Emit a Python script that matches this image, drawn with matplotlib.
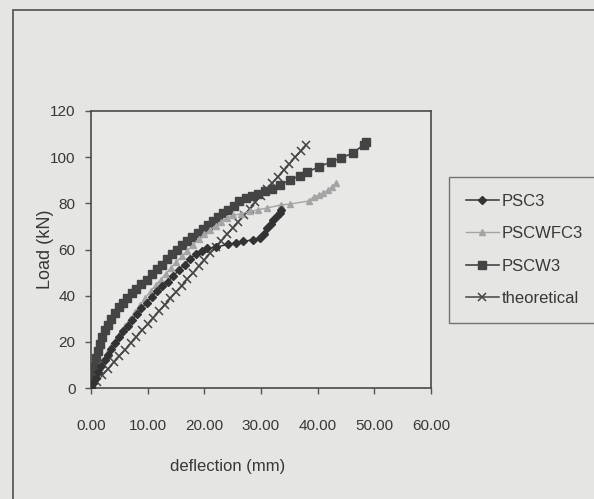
import matplotlib
matplotlib.use("Agg")
import matplotlib.pyplot as plt
from matplotlib import font_manager
from matplotlib.patches import Rectangle
from matplotlib.ticker import FormatStrFormatter

# ---------------- data ----------------
psc3_x = [0, 0.4, 0.8, 1.3, 1.8, 2.4, 3.0, 3.6, 4.3, 5.0, 5.7, 6.5, 7.3, 8.1, 8.9,
          9.8, 10.7, 11.6, 12.5, 13.5, 14.5, 15.5, 16.5, 17.5, 18.5, 19.5, 20.5,
          22.0, 24.1, 25.5, 26.9, 28.5, 29.9, 30.6, 31.1, 31.7, 32.2, 32.8, 33.3, 33.6]
psc3_y = [0, 2, 4.5, 7, 9.5, 12, 14.5, 17, 19.5, 22, 24.5, 27, 29.5, 32, 34.5,
          37, 39.5, 42, 44, 46, 48.5, 51, 53.5, 56, 58, 59.5, 60.5,
          61, 62.2, 62.8, 63.5, 64.2, 65, 66.5, 69.3, 71, 72.8, 74.5, 76, 77.2]

pscwfc3_x = [0, 0.5, 1.0, 1.6, 2.2, 2.9, 3.6, 4.4, 5.2, 6.0, 6.9, 7.8, 8.7, 9.6,
             10.5, 11.4, 12.3, 13.2, 14.1, 15.0, 16.0, 17.0, 18.0, 19.0, 20.0,
             21.0, 22.0, 23.0, 24.0, 25.0, 26.5, 28.0, 29.5, 31.1, 33.5, 35.2,
             38.4, 39.3, 40.2, 40.9, 41.9, 42.6, 43.2]
pscwfc3_y = [0, 3, 6, 9, 12, 15, 18, 21, 24, 27, 30, 33, 36, 39,
             42, 44.5, 47, 49.5, 52, 54.5, 57, 59.5, 62, 64.5, 66.5,
             68.5, 70.3, 72, 73.5, 74.8, 75.5, 76.5, 77.2, 78, 79.3, 79.7,
             81, 82.8, 83.5, 84.5, 85.8, 87.2, 88.8]

pscw3_x = [0, 0.3, 0.6, 0.9, 1.2, 1.6, 2.0, 2.5, 3.0, 3.6, 4.2, 4.9, 5.6, 6.4,
           7.2, 8.0, 8.9, 9.8, 10.7, 11.6, 12.5, 13.4, 14.3, 15.2, 16.1, 17.0,
           17.9, 18.8, 19.7, 20.6, 21.5, 22.4, 23.3, 24.2, 25.2, 26.2, 27.3,
           28.4, 29.5, 30.7, 31.9, 33.3, 35.2, 36.8, 38.2, 40.2, 42.3, 44.1,
           46.2, 48.1, 48.5]
pscw3_y = [0, 5, 9, 13, 16, 19, 22, 25, 27.5, 30, 32.5, 35, 37, 39,
           41, 43, 45, 47, 49.5, 51.5, 53.5, 56, 58, 60, 62, 63.8,
           65.5, 67.2, 69, 70.8, 72.5, 74.2, 75.8, 77.3, 79, 81, 82.5,
           83.3, 84.2, 85.2, 86.3, 88, 90.1, 92, 93.6, 95.8, 97.9, 99.6,
           101.8, 105.3, 106.5]

theo_x = [0, 1, 2, 3, 4, 5, 6, 7, 8, 9, 10, 11, 12, 13, 14, 15, 16, 17, 18, 19,
          20, 21, 22, 23, 24, 25, 26, 27, 28, 29, 30, 31, 32, 33, 34, 35, 36, 37, 38]
theo_y = [0, 2.8, 5.5, 8.3, 11.1, 13.9, 16.6, 19.4, 22.2, 25.0, 27.7, 30.5, 33.3,
          36.1, 38.8, 41.6, 44.4, 47.2, 49.9, 52.7, 55.5, 58.3, 61.0, 63.8, 66.6,
          69.4, 72.1, 74.9, 77.7, 80.5, 83.2, 86.0, 88.8, 91.6, 94.3, 97.1, 99.9,
          102.7, 105.4]

series_labels = ["PSC3", "PSCWFC3", "PSCW3", "theoretical"]
x_label = "deflection (mm)"
y_label = "Load (kN)"

# ---------------- style ----------------
names = {f.name for f in font_manager.fontManager.ttflist}
fam = "Liberation Sans Narrow" if "Liberation Sans Narrow" in names else "Liberation Sans"
plt.rcParams["font.family"] = [fam, "DejaVu Sans"]

W, H = 594, 499
fig = plt.figure(figsize=(W / 100, H / 100), dpi=100)
bg = "#e5e5e3"
fig.patch.set_facecolor(bg)
txt = "#383838"

# outer chart border
fig.add_artist(Rectangle((13 / W, -0.2), 1.2, 1.2 - 10 / H,
                         transform=fig.transFigure, fill=False,
                         edgecolor="#5a5a5a", linewidth=1.3))

ax = fig.add_axes([91 / W, 1 - 388 / H, (431 - 91) / W, (388 - 111) / H])
ax.set_facecolor("#e8e8e6")

ax.plot(pscw3_x, pscw3_y, color="#444444", marker="s", markersize=5.2,
        linewidth=1.2, label=series_labels[2], zorder=3)
ax.plot(pscwfc3_x, pscwfc3_y, color="#a4a4a4", marker="^", markersize=4.5,
        linewidth=1.0, label=series_labels[1], zorder=4)
ax.plot(theo_x, theo_y, color="#444444", marker="x", markersize=6,
        markeredgewidth=1.1, linewidth=1.1, label=series_labels[3], zorder=2)
ax.plot(psc3_x, psc3_y, color="#333333", marker="D", markersize=4,
        linewidth=1.1, label=series_labels[0], zorder=5)

ax.set_xlim(0, 60)
ax.set_ylim(0, 120)
ax.set_xticks([0, 10, 20, 30, 40, 50, 60])
ax.set_yticks([0, 20, 40, 60, 80, 100, 120])
ax.xaxis.set_major_formatter(FormatStrFormatter("%.2f"))
ax.tick_params(axis="both", direction="out", length=4, width=1, color="#555555",
               labelcolor=txt, labelsize=11)
ax.tick_params(axis="x", pad=18)
ax.tick_params(axis="y", pad=7)
for s in ax.spines.values():
    s.set_color("#4a4a4a")
    s.set_linewidth(1.2)

ax.set_xlabel(x_label, fontsize=12, color=txt, labelpad=19)
ax.xaxis.label.set_x((228 - 91) / 340)
ax.set_ylabel(y_label, fontsize=13, color=txt, labelpad=-3)

handles, labels = ax.get_legend_handles_labels()
order = [labels.index(l) for l in series_labels]
leg = fig.legend([handles[i] for i in order], [labels[i] for i in order],
                 loc="upper left", bbox_to_anchor=(449 / W, 1 - 177 / H),
                 borderaxespad=0, fontsize=12, frameon=True, fancybox=False,
                 handlelength=2.0, handletextpad=0.15, labelspacing=1.05,
                 borderpad=1.0, labelcolor=txt)
leg.get_frame().set_facecolor(bg)
leg.get_frame().set_edgecolor("#555555")
leg.get_frame().set_linewidth(1.0)

fig.savefig("out.png", dpi=100, facecolor=bg)
